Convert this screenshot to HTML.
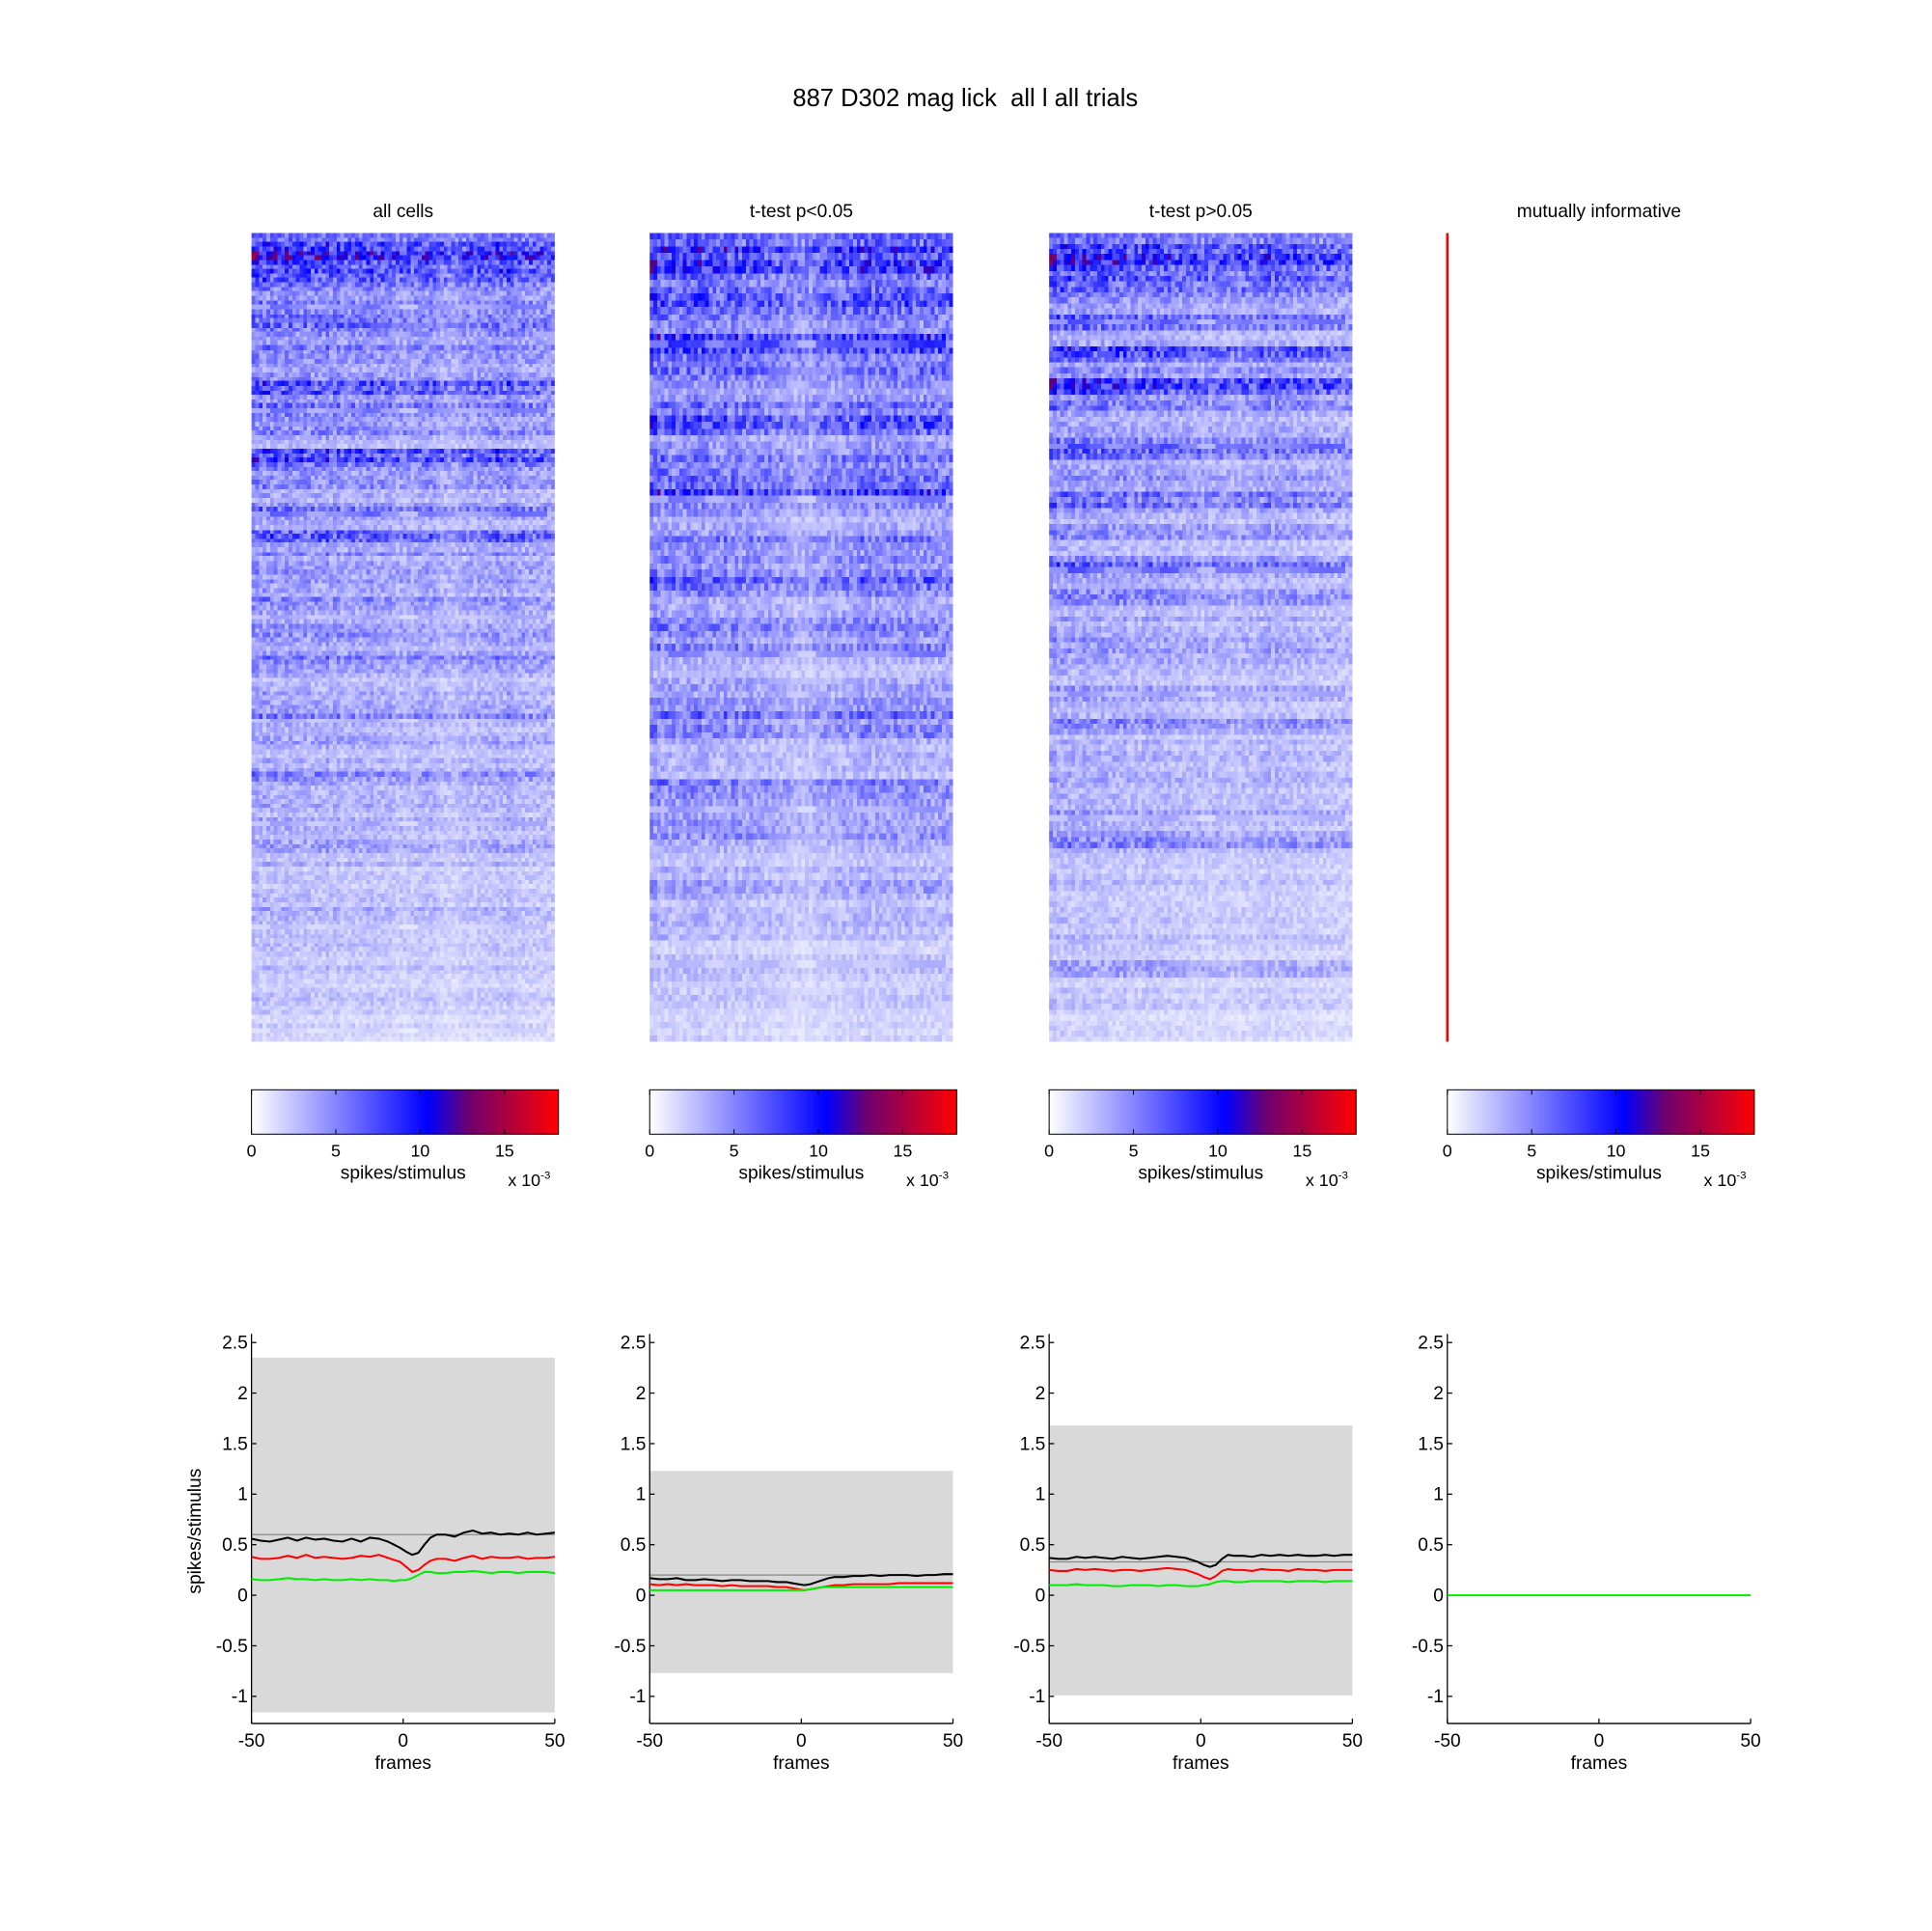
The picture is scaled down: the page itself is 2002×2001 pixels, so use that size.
<!DOCTYPE html>
<html><head><meta charset="utf-8">
<style>
html,body{margin:0;padding:0;background:#fff;}
#root{position:relative;width:1560px;height:1559px;transform:scale(1.2775);transform-origin:0 0;font-family:"Liberation Sans",sans-serif;}
canvas{position:absolute;image-rendering:pixelated;}
svg{position:absolute;left:0;top:0;}
</style></head>
<body>
<div id="root">
<canvas id="h1" width="246" height="656" style="left:204px;top:189px"></canvas>
<canvas id="h2" width="246" height="656" style="left:527px;top:189px"></canvas>
<canvas id="h3" width="246" height="656" style="left:851px;top:189px"></canvas>
<svg id="s" width="1560" height="1559" viewBox="0 0 1560 1559"></svg>
</div>
<script>
// heatmap data (x1e-3 spikes/stimulus)
const rows1=[7,8.5,8,6.5,5,4.5,6,4.5,5,4,4.5,7,5,4.5,4.5,3.5,7,5,4.5,3.5,5,3.5,6,4.5,3.5,4.5,3.5,5,3,4.5,3.5,5,3.5,3,3.5,4.5,3,3.5,3,3,4.5,3,3.5,3,3,3.5,3,2.2,2.6,2.6,3.5,2.2,2.6,2.2,2.6,1.8,2.6,2.2,1.8,1.6];
const rows2=[8,7.5,6.5,7,5.5,7,6,4.5,5.5,6.5,4.5,5.5,7,4.5,3.5,5.5,4.5,6,3.5,5.5,4.5,3,3.5,5.5,4.5,3.5,3,5.5,3.5,4.5,3,3,3.5,3,3,2.2,2.6,2.2,2.2,1.8];
const rows3=[7,8,7.5,6,4.5,5.5,3.5,7,4.5,7.5,5.5,3.5,4.5,6,3.5,4.5,5.5,3.5,4.5,3,5.5,3.5,4.5,3.5,3,4.5,3.5,3,3.5,3,4.5,3,3,3.5,3,3.5,3,4.5,3,2.2,2.6,2.2,2.6,2.6,2.2,3.5,2.2,2.2,1.8,1.8];
const cols1=[1.1,1.1,1.05,1.05,1.0,1.0,1.0,1.05,1.0,0.95,0.95,1.0,0.95,0.95,0.9,0.9,0.9,0.95,0.85,0.8,0.85,0.9,0.95,0.95,1.0,1.0,0.95,0.9,0.9,0.85];
const cols2=[1.1,1.05,1.0,1.0,1.05,1.0,0.95,1.0,1.0,0.95,0.9,0.9,0.85,0.8,0.75,0.75,0.8,0.85,0.9,0.95,1.0,1.0,1.0,0.95,1.0,1.0,0.95,1.0,0.95,0.95];
const cols3=[1.1,1.1,1.05,1.05,1.0,1.0,1.0,1.0,0.95,1.0,0.95,0.95,0.9,0.9,0.9,0.85,0.85,0.8,0.85,0.9,0.9,0.95,0.95,0.9,0.9,0.85,0.85,0.85,0.8,0.8];
const texture=[1.0,0.5,1.5,0.75,1.25,0.35,1.6,0.85,1.15,0.6,1.4,0.95,0.45,1.55,1.05,0.7,1.3,0.9,1.2,0.55,1.45,0.8,1.1];
// line data
const frames=[-50,-47,-44,-41,-38,-35,-32,-29,-26,-23,-20,-17,-14,-11,-8,-5,-3,-1,1,3,5,7,9,11,14,17,20,23,26,29,32,35,38,41,44,47,50];
const black1=[0.56,0.54,0.53,0.55,0.57,0.54,0.57,0.55,0.56,0.54,0.53,0.56,0.53,0.57,0.56,0.53,0.5,0.47,0.43,0.4,0.42,0.5,0.57,0.6,0.6,0.58,0.62,0.64,0.61,0.62,0.6,0.61,0.6,0.62,0.6,0.61,0.62];
const red1=[0.38,0.36,0.36,0.37,0.39,0.37,0.4,0.37,0.38,0.37,0.36,0.37,0.39,0.38,0.4,0.37,0.35,0.33,0.28,0.23,0.25,0.3,0.34,0.36,0.36,0.34,0.37,0.39,0.36,0.38,0.37,0.37,0.38,0.36,0.37,0.37,0.38];
const green1=[0.16,0.15,0.15,0.16,0.17,0.16,0.16,0.15,0.16,0.15,0.15,0.16,0.15,0.16,0.15,0.15,0.14,0.15,0.15,0.17,0.2,0.23,0.23,0.22,0.22,0.23,0.23,0.24,0.23,0.22,0.23,0.23,0.22,0.23,0.23,0.23,0.22];
const black2=[0.17,0.16,0.16,0.17,0.15,0.15,0.16,0.15,0.14,0.15,0.15,0.14,0.14,0.14,0.13,0.13,0.12,0.11,0.1,0.11,0.13,0.15,0.17,0.18,0.18,0.19,0.19,0.2,0.19,0.2,0.2,0.2,0.19,0.2,0.2,0.21,0.21];
const red2=[0.11,0.1,0.11,0.1,0.11,0.1,0.1,0.1,0.09,0.1,0.09,0.09,0.09,0.09,0.08,0.08,0.07,0.06,0.05,0.06,0.07,0.08,0.09,0.1,0.1,0.11,0.11,0.11,0.11,0.11,0.12,0.12,0.12,0.12,0.12,0.12,0.12];
const green2=[0.05,0.05,0.05,0.05,0.05,0.05,0.05,0.05,0.05,0.05,0.05,0.05,0.05,0.05,0.05,0.05,0.05,0.05,0.05,0.06,0.07,0.08,0.08,0.08,0.08,0.08,0.08,0.08,0.08,0.08,0.08,0.08,0.08,0.08,0.08,0.08,0.08];
const black3=[0.37,0.36,0.36,0.38,0.37,0.38,0.37,0.36,0.38,0.37,0.36,0.37,0.38,0.39,0.38,0.37,0.35,0.33,0.3,0.28,0.3,0.36,0.4,0.39,0.39,0.38,0.4,0.39,0.4,0.39,0.4,0.39,0.39,0.4,0.39,0.4,0.4];
const red3=[0.25,0.24,0.24,0.26,0.25,0.26,0.25,0.24,0.25,0.25,0.24,0.25,0.26,0.27,0.26,0.25,0.23,0.21,0.18,0.16,0.19,0.24,0.26,0.25,0.25,0.24,0.26,0.25,0.25,0.24,0.26,0.25,0.25,0.24,0.25,0.25,0.25];
const green3=[0.1,0.1,0.1,0.11,0.1,0.1,0.1,0.09,0.09,0.1,0.1,0.1,0.09,0.1,0.1,0.09,0.09,0.09,0.1,0.11,0.13,0.14,0.14,0.13,0.13,0.14,0.14,0.14,0.14,0.13,0.14,0.14,0.14,0.13,0.14,0.14,0.14];
const green4=frames.map(()=>0);
const meanRef=[0.6,0.2,0.33,null];
const bandTop=[2.35,1.23,1.68,null];
const bandBottom=[-1.16,-0.77,-0.99,null];
const yTicks=[2.5,2,1.5,1,0.5,0,-0.5,-1];
const yTickLabels=["2.5","2","1.5","1","0.5","0","-0.5","-1"];
const xTicks=[-50,0,50];
const cbTicks=[0,5,10,15];

function cmap(v){
  const stops=[[0,[255,255,255]],[10.5,[0,0,255]],[13,[110,0,110]],[18.3,[255,0,0]]];
  v=Math.max(0,Math.min(18.3,v));
  for(let i=0;i<stops.length-1;i++){
    const [a,ca]=stops[i],[b,cb]=stops[i+1];
    if(v<=b){const t=(v-a)/(b-a);return `rgb(${ca.map((c,k)=>Math.round(c+(cb[k]-c)*t)).join(',')})`;}
  }
  return 'rgb(255,0,0)';
}
function drawHeat(id,rows,cols){
  const c=document.getElementById(id).getContext('2d');
  c.imageSmoothingEnabled=false;
  const W=246,H=656,nc=82,sub=3;
  const nr=rows.length*sub;
  const rh=H/nr,cw=W/nc;
  const L=texture.length;
  for(let i=0;i<nr;i++){
    const base=rows[Math.floor(i/sub)];
    const r=base*(0.7+0.3*texture[(i*5)%L]);
    for(let j=0;j<nc;j++){
      const t=texture[(i*i*3+j*7+i*j+Math.floor(j/5)*11)%L];
      const v=r*cols[Math.floor(j*cols.length/nc)]*(0.35+0.65*t);
      c.fillStyle=cmap(v);
      c.fillRect(Math.round(j*cw),Math.round(i*rh),Math.round((j+1)*cw)-Math.round(j*cw),Math.round((i+1)*rh)-Math.round(i*rh));
    }
  }
}
drawHeat('h1',rows1,cols1);drawHeat('h2',rows2,cols2);drawHeat('h3',rows3,cols3);

const NS='http://www.w3.org/2000/svg';
const svg=document.getElementById('s');
function el(tag,attrs,parent){const e=document.createElementNS(NS,tag);for(const k in attrs)e.setAttribute(k,attrs[k]);(parent||svg).appendChild(e);return e;}
function txt(x,y,s,size,anchor,name){const t=el('text',{x:x,y:y,'font-size':size,'text-anchor':anchor||'middle','font-family':'Liberation Sans, sans-serif',fill:'#000'});t.textContent=s;

return t;}

txt(783,86,'887 D302 mag lick \u00a0all l all trials',20,'middle','figure-title');
const px=[204,527,851,1174];
const titles=['all cells','t-test p<0.05','t-test p>0.05','mutually informative'];
const defs=el('defs',{});
const g=el('linearGradient',{id:'cb',x1:'0',x2:'1',y1:'0',y2:'0'},defs);
[[0,'#ffffff'],[0.574,'#0000ff'],[0.71,'#6e006e'],[1,'#ff0000']].forEach(s=>el('stop',{offset:s[0],'stop-color':s[1]},g));

const rl=el('line',{x1:1174,y1:189,x2:1174,y2:845,stroke:'#e00',"stroke-width":2});



const yS=v=>1294-v*82;
const xS=(p,f)=>px[p]+(f+50)/100*246;
const series=[[black1,red1,green1],[black2,red2,green2],[black3,red3,green3],[null,null,green4]];
px.forEach((x0,p)=>{
  txt(x0+123,176,titles[p],15,'middle','panel-title-'+(p+1));
  const cb=el('rect',{x:x0,y:884,width:249,height:36,fill:'url(#cb)',stroke:'#000','stroke-width':0.8});
  
  
  cbTicks.forEach(t=>{const tx=x0+t/18.2*249;el('line',{x1:tx,y1:884,x2:tx,y2:888,stroke:'#000','stroke-width':0.8});el('line',{x1:tx,y1:920,x2:tx,y2:916,stroke:'#000','stroke-width':0.8});
    txt(tx,938,String(t),14,'middle','colorbar-tick');});
  txt(x0+123,956,'spikes/stimulus',15,'middle','colorbar-label');
  const ex=txt(x0+208,962,'x 10',14,'start','colorbar-exponent');
  const sup=el('tspan',{dy:-6,'font-size':9},ex);sup.textContent='-3';
  if(bandTop[p]!==null){
    const r=el('rect',{x:x0,y:yS(bandTop[p]),width:246,height:yS(bandBottom[p])-yS(bandTop[p]),fill:'#d9d9d9'});
    
    
    const m=el('line',{x1:x0,x2:x0+246,y1:yS(meanRef[p]),y2:yS(meanRef[p]),stroke:'#888','stroke-width':1});
    
    
  }
  el('line',{x1:x0,y1:1082,x2:x0,y2:1398,stroke:'#000','stroke-width':1});
  el('line',{x1:x0,y1:1398,x2:x0+246,y2:1398,stroke:'#000','stroke-width':1});
  yTicks.forEach((t,i)=>{el('line',{x1:x0,x2:x0+4,y1:yS(t),y2:yS(t),stroke:'#000'});
    txt(x0-3,yS(t)+5,yTickLabels[i],15,'end','y-tick-label');});
  xTicks.forEach(t=>{el('line',{x1:xS(p,t),x2:xS(p,t),y1:1398,y2:1394,stroke:'#000'});
    txt(xS(p,t),1417,String(t),15,'middle','x-tick-label');});
  txt(x0+123,1435,'frames',15,'middle','x-axis-title');
  const colors=['#000','#f00','#0e0'];
  series[p].forEach((arr,k)=>{ if(!arr)return;
    const pts=frames.map((f,i)=>xS(p,f).toFixed(1)+','+yS(arr[i]).toFixed(1)).join(' ');
    const pl=el('polyline',{points:pts,fill:'none',stroke:colors[k],'stroke-width':1.6});
    
    
  });
});
const yl=txt(0,0,'spikes/stimulus',15,'middle','y-axis-title');
yl.setAttribute('transform','translate(163,1242) rotate(-90)');
</script>
</body></html>
